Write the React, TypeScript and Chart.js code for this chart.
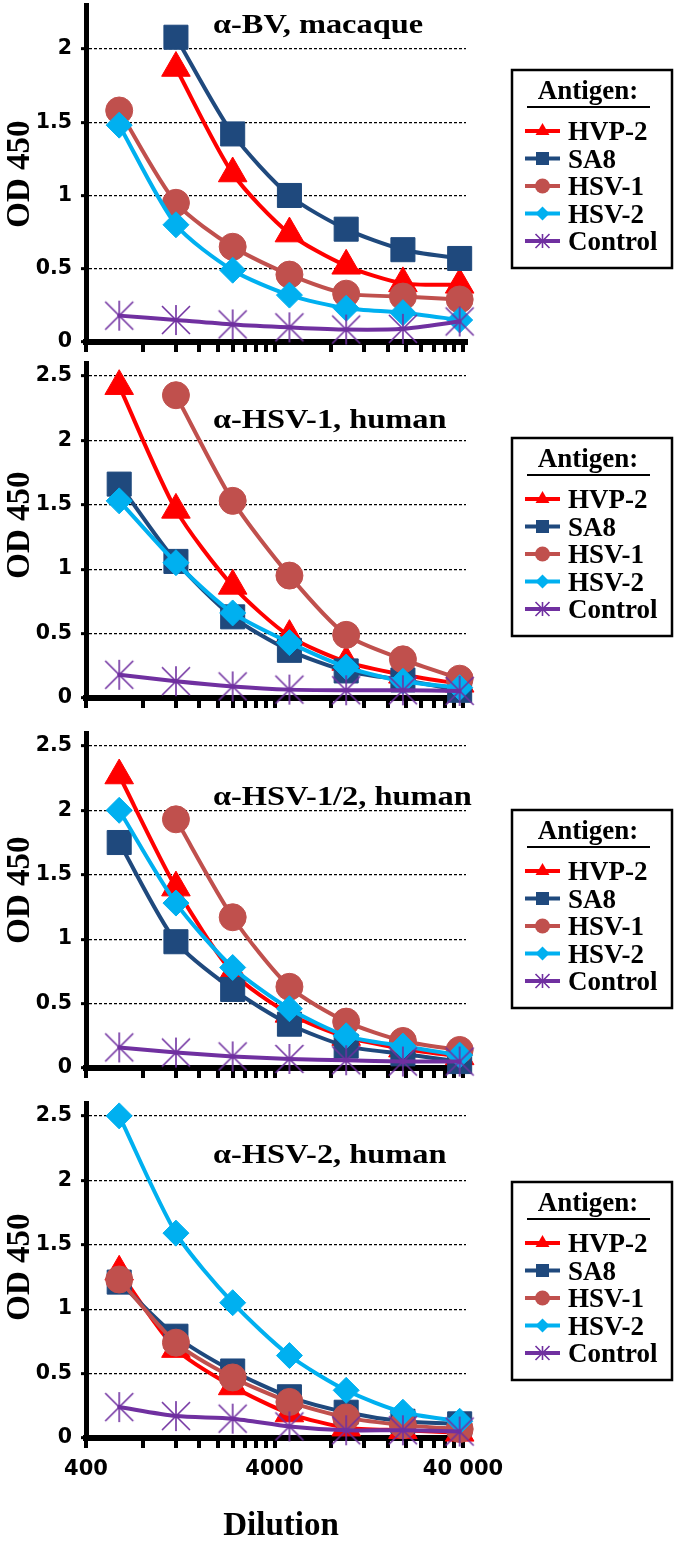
import React, { useEffect, useRef } from 'react';
import { Chart, registerables } from 'chart.js';

Chart.register(...registerables);

// ---------- data ----------
const dilutions = [600, 1200, 2400, 4800, 9600, 19200, 38400];
const xTickValues = [400, 800, 1200, 1600, 2000, 2400, 2800, 3200, 3600, 4000, 8000, 12000, 16000, 20000, 24000, 28000, 32000, 36000, 40000];
const xLabelValues = [400, 4000, 40000];
const xLabelTexts = ['400', '4000', '40 000'];
const yTicksFirst = [0, 0.5, 1, 1.5, 2];
const yTicksOther = [0, 0.5, 1, 1.5, 2, 2.5];
const antigenNames = ['HVP-2', 'SA8', 'HSV-1', 'HSV-2', 'Control'];
const antigenColors = ['#FF0000', '#1F497D', '#C0504D', '#00B0F0', '#7030A0'];
const panelTitles = ['α-BV, macaque', 'α-HSV-1, human', 'α-HSV-1/2, human', 'α-HSV-2, human'];
const yAxisTitle = 'OD 450';
const xAxisTitle = 'Dilution';
const legendTitle = 'Antigen:';

// α-BV, macaque
const bvHVP2 = [null, 1.87, 1.15, 0.74, 0.52, 0.40, 0.39];
const bvSA8 = [null, 2.08, 1.42, 1.0, 0.77, 0.63, 0.57];
const bvHSV1 = [1.58, 0.95, 0.65, 0.46, 0.33, 0.31, 0.29];
const bvHSV2 = [1.48, 0.8, 0.49, 0.32, 0.23, 0.2, 0.15];
const bvControl = [0.18, 0.15, 0.12, 0.1, 0.085, 0.09, 0.14];

// α-HSV-1, human
const h1HVP2 = [2.42, 1.46, 0.87, 0.48, 0.28, 0.18, 0.11];
const h1SA8 = [1.66, 1.06, 0.63, 0.37, 0.21, 0.14, 0.06];
const h1HSV1 = [null, 2.35, 1.53, 0.95, 0.49, 0.3, 0.15];
const h1HSV2 = [1.53, 1.05, 0.66, 0.43, 0.24, 0.13, 0.08];
const h1Control = [0.18, 0.13, 0.09, 0.065, 0.06, 0.06, 0.055];

// α-HSV-1/2, human
const h12HVP2 = [2.27, 1.4, 0.74, 0.42, 0.24, 0.15, 0.09];
const h12SA8 = [1.75, 0.98, 0.61, 0.34, 0.17, 0.11, 0.05];
const h12HSV1 = [null, 1.93, 1.17, 0.63, 0.36, 0.21, 0.14];
const h12HSV2 = [2.0, 1.28, 0.78, 0.46, 0.25, 0.17, 0.1];
const h12Control = [0.16, 0.12, 0.09, 0.07, 0.06, 0.05, 0.05];

// α-HSV-2, human
const h2HVP2 = [1.29, 0.69, 0.4, 0.19, 0.08, 0.06, 0.04];
const h2SA8 = [1.21, 0.79, 0.52, 0.32, 0.2, 0.13, 0.11];
const h2HSV1 = [1.23, 0.74, 0.47, 0.28, 0.16, 0.1, 0.07];
const h2HSV2 = [2.5, 1.59, 1.05, 0.64, 0.37, 0.2, 0.13];
const h2Control = [0.24, 0.17, 0.15, 0.09, 0.06, 0.06, 0.05];

const panelSeries = [
  [bvHVP2, bvSA8, bvHSV1, bvHSV2, bvControl],
  [h1HVP2, h1SA8, h1HSV1, h1HSV2, h1Control],
  [h12HVP2, h12SA8, h12HSV1, h12HSV2, h12Control],
  [h2HVP2, h2SA8, h2HSV1, h2HSV2, h2Control],
];

// ---------- layout (page coordinates) ----------
const PAGE_W = 679;
const PAGE_H = 1545;
const AREA_LEFT = 86;
const AREA_RIGHT = 466;
const X_MIN = 400;
const X_MAX = 41490;

const GEOM = [
  { top: 5, bottom: 342, ymax: 2.3, yTicks: yTicksFirst, titleY: 33, odY: 174, legendTop: 70 },
  { top: 363, bottom: 698, ymax: 2.6, yTicks: yTicksOther, titleY: 428, odY: 525, legendTop: 438 },
  { top: 733, bottom: 1068, ymax: 2.6, yTicks: yTicksOther, titleY: 805, odY: 890, legendTop: 810 },
  { top: 1103, bottom: 1438, ymax: 2.6, yTicks: yTicksOther, titleY: 1163, odY: 1267, legendTop: 1182 },
];

const SERIF = '"Liberation Serif", "Times New Roman", Times, serif';
const SANS = '"DejaVu Sans", Verdana, sans-serif';

function panelCanvas(k: number) {
  const g = GEOM[k];
  const canvasTop = k === 0 ? 0 : g.top - 20;
  const last = k === GEOM.length - 1;
  const canvasH = last ? PAGE_H - canvasTop : g.bottom - canvasTop + 16;
  const xH = canvasH - (g.bottom - canvasTop);
  return { canvasTop, canvasH, padTop: g.top - canvasTop, xH, last };
}

function makeStar(color: string) {
  const c = document.createElement('canvas');
  c.width = 32;
  c.height = 32;
  const g = c.getContext('2d')!;
  g.strokeStyle = color;
  g.lineWidth = 1.6;
  g.beginPath();
  g.moveTo(16, 1);
  g.lineTo(16, 31);
  g.moveTo(2, 2);
  g.lineTo(30, 30);
  g.moveTo(30, 2);
  g.lineTo(2, 30);
  g.stroke();
  return c;
}

function drawLegendMarker(ctx: CanvasRenderingContext2D, i: number, x: number, y: number, color: string) {
  ctx.save();
  ctx.fillStyle = color;
  ctx.strokeStyle = color;
  ctx.beginPath();
  if (i === 0) {
    const r = 8;
    ctx.moveTo(x, y - r);
    ctx.lineTo(x + 0.866 * r, y + 0.5 * r);
    ctx.lineTo(x - 0.866 * r, y + 0.5 * r);
    ctx.closePath();
    ctx.fill();
  } else if (i === 1) {
    ctx.rect(x - 6.5, y - 6.5, 13, 13);
    ctx.fill();
  } else if (i === 2) {
    ctx.arc(x, y, 7.5, 0, Math.PI * 2);
    ctx.fill();
  } else if (i === 3) {
    ctx.moveTo(x - 7, y);
    ctx.lineTo(x, y - 7);
    ctx.lineTo(x + 7, y);
    ctx.lineTo(x, y + 7);
    ctx.closePath();
    ctx.fill();
  } else {
    ctx.lineWidth = 1.6;
    const a = 7;
    ctx.moveTo(x, y - a);
    ctx.lineTo(x, y + a);
    ctx.moveTo(x - a, y - a);
    ctx.lineTo(x + a, y + a);
    ctx.moveTo(x + a, y - a);
    ctx.lineTo(x - a, y + a);
    ctx.stroke();
  }
  ctx.restore();
}

function buildConfig(k: number, star: HTMLCanvasElement): any {
  const g = GEOM[k];
  const pc = panelCanvas(k);
  const oy = pc.canvasTop;
  const styles: any[] = ['triangle', 'rect', 'circle', 'rectRot', star];
  const radii = [16.5, 17, 13.5, 13, 15];

  const datasets = panelSeries[k].map((vals, i) => ({
    label: antigenNames[i],
    data: dilutions.map((d, j) => ({ x: d, y: vals[j] })),
    borderColor: antigenColors[i],
    backgroundColor: antigenColors[i],
    borderWidth: 4,
    borderCapStyle: 'round',
    borderJoinStyle: 'round',
    pointStyle: styles[i],
    pointRadius: radii[i],
    pointHoverRadius: radii[i],
    pointBackgroundColor: antigenColors[i],
    pointBorderColor: antigenColors[i],
    pointBorderWidth: 1,
    tension: 0.25,
    clip: false,
    order: 4 - i,
    spanGaps: false,
  }));

  const decorPlugin = {
    id: 'decor' + k,
    afterDraw(chart: any) {
      const ctx: CanvasRenderingContext2D = chart.ctx;
      ctx.save();
      ctx.fillStyle = '#000';
      ctx.strokeStyle = '#000';

      // panel title (horizontally stretched like the original)
      ctx.font = `bold 27px ${SERIF}`;
      ctx.textAlign = 'left';
      ctx.textBaseline = 'alphabetic';
      ctx.save();
      ctx.translate(213, g.titleY - oy);
      ctx.scale(1.2, 1);
      ctx.fillText(panelTitles[k], 0, 0);
      ctx.restore();

      // y-axis title
      ctx.save();
      ctx.translate(29, g.odY - oy);
      ctx.rotate(-Math.PI / 2);
      ctx.font = `bold 33px ${SERIF}`;
      ctx.textAlign = 'center';
      ctx.fillText(yAxisTitle, 0, 0);
      ctx.restore();

      // legend box
      const L = 512, R = 672, T = g.legendTop - oy, H = 198;
      ctx.lineWidth = 2.5;
      ctx.strokeRect(L, T, R - L, H);
      ctx.font = `bold 27px ${SERIF}`;
      ctx.textAlign = 'center';
      ctx.fillText(legendTitle, 588, T + 29);
      ctx.lineWidth = 2;
      ctx.beginPath();
      ctx.moveTo(527, T + 37);
      ctx.lineTo(650, T + 37);
      ctx.stroke();
      ctx.textAlign = 'left';
      antigenNames.forEach((name, i) => {
        const cy = T + 61 + i * 27.5;
        ctx.save();
        ctx.strokeStyle = antigenColors[i];
        ctx.lineWidth = 4;
        ctx.beginPath();
        ctx.moveTo(525, cy);
        ctx.lineTo(560, cy);
        ctx.stroke();
        ctx.restore();
        drawLegendMarker(ctx, i, 542.5, cy, antigenColors[i]);
        ctx.fillStyle = '#000';
        ctx.fillText(name, 568, cy + 9);
      });

      if (pc.last) {
        ctx.font = `bold 33px ${SERIF}`;
        ctx.textAlign = 'center';
        ctx.fillText(xAxisTitle, 281, 1535 - oy);
      }
      ctx.restore();
    },
  };

  return {
    type: 'line',
    data: { datasets },
    plugins: [decorPlugin],
    options: {
      animation: false,
      responsive: false,
      devicePixelRatio: 1,
      events: [],
      layout: { autoPadding: false, padding: { top: pc.padTop, left: 0, right: PAGE_W - AREA_RIGHT, bottom: 0 } },
      plugins: { legend: { display: false }, tooltip: { enabled: false }, title: { display: false } },
      scales: {
        x: {
          type: 'logarithmic',
          min: X_MIN,
          max: X_MAX,
          bounds: 'data',
          afterBuildTicks: (s: any) => {
            s.ticks = xTickValues.map((v) => ({ value: v }));
          },
          afterFit: (s: any) => {
            s.height = pc.xH;
            s.paddingLeft = 0;
            s.paddingRight = 0;
          },
          grid: {
            display: true,
            drawOnChartArea: false,
            drawTicks: true,
            tickLength: 10,
            tickWidth: 4,
            lineWidth: 4,
            color: '#000',
            tickColor: '#000',
          },
          border: { display: true, color: '#000', width: 6 },
          ticks: {
            display: pc.last,
            autoSkip: false,
            maxRotation: 0,
            minRotation: 0,
            padding: 9,
            color: '#000',
            font: { family: SANS, weight: 'bold', size: 21 },
            callback: (v: number) => {
              const idx = xLabelValues.indexOf(v);
              return idx >= 0 ? xLabelTexts[idx] : '';
            },
          },
        },
        y: {
          type: 'linear',
          min: 0,
          max: g.ymax,
          afterBuildTicks: (s: any) => {
            s.ticks = g.yTicks.map((v) => ({ value: v }));
          },
          afterFit: (s: any) => {
            s.width = AREA_LEFT;
            s.paddingTop = 0;
            s.paddingBottom = 0;
          },
          grid: {
            display: true,
            drawOnChartArea: true,
            drawTicks: true,
            tickLength: 5,
            tickWidth: 3,
            tickColor: '#000',
            tickBorderDash: [],
            color: '#000',
            lineWidth: 1.3,
          },
          border: { display: true, color: '#000', width: 5, dash: [3, 2] },
          ticks: {
            padding: 9,
            color: '#000',
            font: { family: SANS, weight: 'bold', size: 20.5 },
            callback: (v: number) => String(v),
          },
        },
      },
    },
  };
}

export default function App() {
  const refs = useRef<(HTMLCanvasElement | null)[]>([]);

  useEffect(() => {
    const star = makeStar(antigenColors[4]);
    const charts = GEOM.map((_, k) => new Chart(refs.current[k] as HTMLCanvasElement, buildConfig(k, star)));
    return () => charts.forEach((c) => c.destroy());
  }, []);

  return (
    <div style={{ position: 'absolute', left: 0, top: 0, width: PAGE_W, height: PAGE_H, background: '#fff', overflow: 'hidden' }}>
      {GEOM.map((_, k) => {
        const pc = panelCanvas(k);
        return (
          <canvas
            key={k}
            ref={(el) => {
              refs.current[k] = el;
            }}
            width={PAGE_W}
            height={pc.canvasH}
            style={{ position: 'absolute', left: 0, top: pc.canvasTop, width: PAGE_W, height: pc.canvasH }}
          />
        );
      })}
    </div>
  );
}
